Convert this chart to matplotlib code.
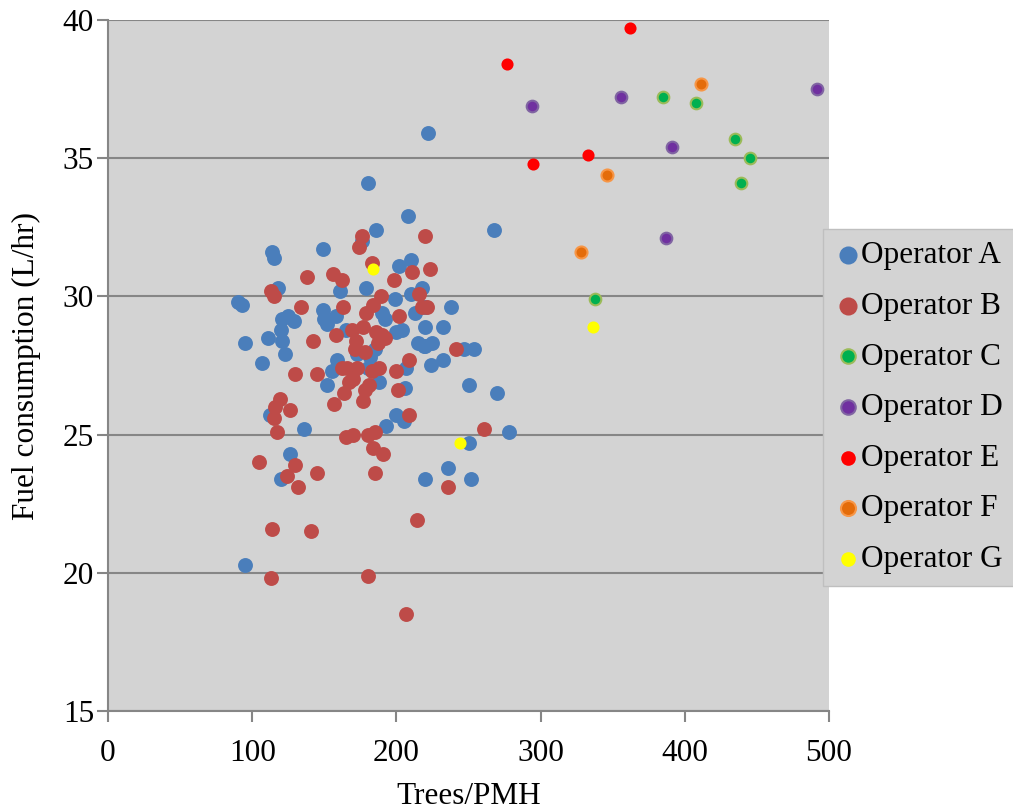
import matplotlib
matplotlib.use("Agg")
import matplotlib.pyplot as plt

plt.rcParams['font.family'] = ['Liberation Serif', 'DejaVu Serif']

# Operator A
a_x = [90, 93, 95, 95, 107, 111, 112, 114, 115, 118, 120, 121, 121, 123, 125, 126, 129, 120, 136,
       149, 149, 150, 152, 152, 155, 158, 159, 161, 165, 170, 173, 176, 179, 180, 180, 182, 185, 186,
       188, 190, 192, 193, 199, 200, 200, 202, 204, 205, 206, 207, 208, 210, 210, 213, 215, 218, 219,
       220, 220, 220, 222, 224, 225, 232, 232, 236, 238, 247, 250, 250, 252, 254, 268, 270, 278, 220]
a_y = [29.8, 29.7, 28.3, 20.3, 27.6, 28.5, 25.7, 31.6, 31.4, 30.3, 28.8, 28.4, 29.2, 27.9, 29.3, 24.3, 29.1, 23.4, 25.2,
       31.7, 29.5, 29.2, 29.0, 26.8, 27.3, 29.3, 27.7, 30.2, 28.8, 27.3, 27.9, 32.0, 30.3, 34.1, 27.4, 27.8, 28.1, 32.4,
       26.9, 29.4, 29.2, 25.3, 29.9, 25.7, 28.7, 31.1, 28.8, 25.5, 26.7, 27.4, 32.9, 31.3, 30.1, 29.4, 28.3, 30.3, 28.2,
       28.9, 29.6, 23.4, 35.9, 27.5, 28.3, 27.7, 28.9, 23.8, 29.6, 28.1, 26.8, 24.7, 23.4, 28.1, 32.4, 26.5, 25.1, 28.2]

# Operator B
b_x = [105, 113, 115, 114, 113, 115, 116, 117, 119, 124, 126, 130, 130, 132, 134, 138, 141, 142, 145, 145,
       156, 157, 158, 162, 162, 163, 164, 165, 166, 167, 169, 170, 170, 171, 172, 173, 174, 176, 177, 177,
       178, 178, 179, 180, 180, 181, 183, 183, 184, 184, 185, 185, 186, 187, 188, 189, 190, 191, 192, 198,
       200, 202, 201, 207, 209, 209, 211, 214, 216, 218, 220, 221, 223, 236, 241, 261]
b_y = [24.0, 30.2, 30.0, 21.6, 19.8, 25.6, 26.0, 25.1, 26.3, 23.5, 25.9, 27.2, 23.9, 23.1, 29.6, 30.7, 21.5, 28.4, 23.6, 27.2,
       30.8, 26.1, 28.6, 30.6, 27.4, 29.6, 26.5, 24.9, 27.4, 26.9, 28.8, 25.0, 27.0, 28.1, 28.4, 27.4, 31.8, 32.2, 28.9, 26.2,
       28.0, 26.6, 29.4, 25.0, 19.9, 26.8, 31.2, 27.3, 24.5, 29.7, 25.1, 23.6, 28.7, 28.3, 27.4, 30.0, 28.6, 24.3, 28.5, 30.6,
       27.3, 29.3, 26.6, 18.5, 25.7, 27.7, 30.9, 21.9, 30.1, 29.6, 32.2, 29.6, 31.0, 23.1, 28.1, 25.2]

# Operator C
c_x = [338, 385, 408, 435, 439, 445]
c_y = [29.9, 37.2, 37.0, 35.7, 34.1, 35.0]

# Operator D
d_x = [294, 356, 387, 391, 492]
d_y = [36.9, 37.2, 32.1, 35.4, 37.5]

# Operator E
e_x = [277, 295, 333, 362]
e_y = [38.4, 34.8, 35.1, 39.7]

# Operator F
f_x = [328, 346, 411]
f_y = [31.6, 34.4, 37.7]

# Operator G
g_x = [184, 336, 244]
g_y = [31.0, 28.9, 24.7]

labels = ["Operator A", "Operator B", "Operator C", "Operator D", "Operator E", "Operator F", "Operator G"]
xticks = [0, 100, 200, 300, 400, 500]
yticks = [15, 20, 25, 30, 35, 40]

FS = 22.5

fig = plt.figure(figsize=(10.13, 8.11), dpi=100)
ax = fig.add_axes([108/1013, 1-711/811, (829-108)/1013, (711-20)/811])
ax.set_facecolor('#d3d3d3')

series = [
    (a_x, a_y, '#4a7ebb', '#4a7ebb', 85),
    (b_x, b_y, '#be4b48', '#be4b48', 85),
    (c_x, c_y, '#00b050', '#9bbb59', 70),
    (d_x, d_y, '#7030a0', '#8064a2', 70),
    (e_x, e_y, '#ff0000', '#ff0000', 52),
    (f_x, f_y, '#e46c0a', '#f79646', 75),
    (g_x, g_y, '#ffff00', '#ffff00', 52),
]
handles = []
for (xs, ys, fc, ec, s), lab in zip(series, labels):
    h = ax.scatter(xs, ys, s=s, c=fc, edgecolors=ec, linewidths=1.5, label=lab, zorder=3)
    handles.append(h)

ax.set_xlim(0, 500)
ax.set_ylim(15, 40)
ax.set_xticks(xticks)
ax.set_yticks(yticks)
ax.grid(axis='y', color='#868686', linewidth=1.5, zorder=1)
ax.set_axisbelow(True)
for side in ['top', 'right']:
    ax.spines[side].set_visible(False)
for side in ['left', 'bottom']:
    ax.spines[side].set_color('#868686')
    ax.spines[side].set_linewidth(1.5)
ax.tick_params(axis='both', colors='#868686', labelcolor='black', labelsize=FS, width=1.5, length=8, direction='out')
ax.tick_params(axis='x', pad=12)
ax.tick_params(axis='y', pad=2)

ax.set_xlabel("Trees/PMH", fontsize=FS, labelpad=10)
ax.set_ylabel("Fuel consumption (L/hr)", fontsize=FS, labelpad=16)

# legend
leg = fig.legend(handles=handles, labels=labels, loc='upper left',
                 bbox_to_anchor=(823/1013, 1-229/811), frameon=True, fontsize=FS,
                 handletextpad=0.0, labelspacing=0.69, borderpad=0.4, borderaxespad=0,
                 markerscale=1.25, handlelength=0.8)
frame = leg.get_frame()
frame.set_facecolor('#d3d3d3')
frame.set_edgecolor('#bfbfbf')
frame.set_alpha(1)
frame.set_boxstyle('square', pad=0)

fig.savefig("out.png", dpi=100)
